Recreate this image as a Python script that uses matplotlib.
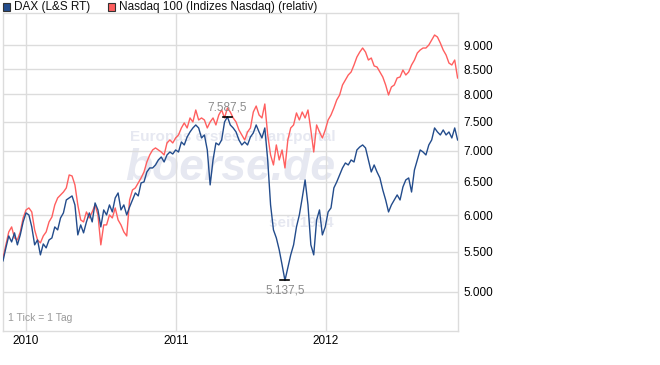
import matplotlib
matplotlib.use("Agg")
import matplotlib.pyplot as plt
import matplotlib.ticker as mticker
import numpy as np
import pandas as pd
from matplotlib.patches import Rectangle

plt.rcParams['font.family'] = ['Liberation Sans', 'DejaVu Sans']

start_date = "2009-11-06"
step = "7D"

dax = [5383, 5552, 5712, 5631, 5754, 5592, 5726, 5906, 6034, 6005,
       5836, 5592, 5658, 5460, 5604, 5552, 5658, 5685, 5836, 5795,
       5962, 6034, 6223, 6253, 6283, 6150, 5726, 5864, 5754, 5906,
       6034, 5906, 6179, 6077, 5836, 6077, 6005, 6150, 6048, 6253,
       6328, 6077, 6150, 6005, 6120, 6223, 6328, 6283, 6481, 6496,
       6652, 6716, 6716, 6764, 6845, 6894, 6812, 6927, 6976, 6943,
       7010, 6976, 7145, 7094, 7230, 7317, 7387, 7440, 7387, 7213,
       7265, 7010, 6450, 6845, 7128, 7094, 7179, 7493, 7587.5, 7440,
       7387, 7317, 7179, 7094, 7145, 7094, 7230, 7300, 7440, 7317,
       7213, 7387, 6845, 6150, 5795, 5685, 5526, 5332, 5137.5, 5294,
       5460, 5592, 5836, 6005, 6253, 6527, 6150, 5592, 5460, 5934,
       6077, 5726, 5836, 6048, 6106, 6404, 6496, 6605, 6716, 6796,
       6764, 6845, 6812, 7010, 7060, 7094, 7044, 6845, 6652, 6764,
       6652, 6558, 6373, 6223, 6048, 6150, 6223, 6298, 6223, 6419,
       6527, 6558, 6342, 6684, 6845, 7010, 6976, 6927, 7094, 7179,
       7387, 7317, 7265, 7352, 7265, 7317, 7213, 7387, 7179]

nasdaq = [5421, 5592, 5767, 5836, 5685, 5658, 5767, 5962, 6077, 6106,
          6048, 5795, 5658, 5618, 5712, 5767, 5906, 5976, 6150, 6253,
          6298, 6342, 6404, 6605, 6589, 6450, 6150, 5934, 5906, 6048,
          5962, 6048, 6150, 6005, 5592, 5864, 5864, 6005, 5962, 6106,
          5934, 5864, 5767, 5712, 6223, 6373, 6404, 6481, 6558, 6652,
          6812, 6927, 7010, 7044, 7010, 6976, 6927, 7128, 7179, 7128,
          7213, 7265, 7387, 7476, 7387, 7565, 7493, 7710, 7529, 7565,
          7529, 7387, 7493, 7565, 7440, 7619, 7710, 7565, 7747, 7673,
          7565, 7493, 7352, 7265, 7179, 7317, 7387, 7673, 7783, 7619,
          7565, 7821, 7265, 6927, 6764, 7094, 6845, 7010, 6716, 7179,
          7387, 7440, 7656, 7529, 7673, 7565, 7710, 7352, 6976, 7440,
          7317, 7213, 7352, 7529, 7619, 7747, 7896, 7990, 8183, 8281,
          8380, 8440, 8582, 8746, 8851, 8936, 8851, 8684, 8726, 8562,
          8541, 8440, 8340, 8183, 7990, 8144, 8183, 8321, 8340, 8480,
          8380, 8440, 8582, 8684, 8830, 8894, 8936, 8936, 9000, 9108,
          9217, 9173, 9043, 8894, 8788, 8622, 8582, 8684, 8321]

y_ticks = [5000, 5500, 6000, 6500, 7000, 7500, 8000, 8500, 9000]
year_ticks = ["2010-01-01", "2011-01-01", "2012-01-01"]
year_labels = ["2010", "2011", "2012"]
legend_labels = ["DAX (L&S RT)", "Nasdaq 100 (Indizes Nasdaq) (relativ)"]

dates = pd.date_range(start_date, periods=len(dax), freq=step)

DAX_COL = "#234c8c"
NDX_COL = "#ff5f5f"
GRID = "#dcdcdc"

fig = plt.figure(figsize=(6.6, 3.65), dpi=100)
ax = fig.add_axes([3 / 660, 34 / 365, 455 / 660, 318 / 365])

ax.set_yscale("log")
ax.set_ylim(4555, 9713)
ax.set_xlim(pd.Timestamp("2009-11-06"), pd.Timestamp("2012-11-17"))

ax.plot(dates, nasdaq, color=NDX_COL, lw=1.0, zorder=3)
ax.plot(dates, dax, color=DAX_COL, lw=1.0, zorder=4)

ax.yaxis.set_major_locator(mticker.FixedLocator(y_ticks))
ax.yaxis.set_minor_locator(mticker.NullLocator())
ax.yaxis.set_major_formatter(mticker.FuncFormatter(lambda v, p: f"{int(v):,}".replace(",", ".")))
ax.set_xticks([pd.Timestamp(d) for d in year_ticks])
ax.set_xticklabels(year_labels)
ax.grid(True, color=GRID, lw=1.0, zorder=0)
ax.yaxis.tick_right()
ax.tick_params(axis="both", length=0, labelsize=8.5, colors="#000000")
ax.tick_params(axis="y", pad=4)
ax.tick_params(axis="x", pad=3)
for s in ax.spines.values():
    s.set_color(GRID)
    s.set_linewidth(1.0)

# watermark
wm = "#e6e8f1"
ax.text(0.505, 0.61, "Europas erstes Finanzportal", transform=ax.transAxes, ha="center", va="center",
        fontsize=11, fontweight="bold", color=wm, zorder=1)
ax.text(0.50, 0.51, "boerse.de", transform=ax.transAxes, ha="center", va="center",
        fontsize=32, fontweight="bold", fontstyle="italic", color=wm, zorder=1)
ax.text(0.655, 0.34, "seit 1994", transform=ax.transAxes, ha="center", va="center",
        fontsize=11, fontweight="bold", color=wm, zorder=1)

# max / min markers
imax = int(np.argmax(dax))
imin = int(np.argmin(dax))
half = pd.Timedelta(days=11)
fmt = lambda v: f"{v:,.1f}".replace(",", "X").replace(".", ",").replace("X", ".")
ax.plot([dates[imax] - half, dates[imax] + half], [dax[imax]] * 2, color="black", lw=1.2, zorder=5)
ax.annotate(fmt(dax[imax]), (dates[imax], dax[imax]), xytext=(0, 2), textcoords="offset points",
            ha="center", va="bottom", fontsize=8.5, color="#8c8c8c", zorder=6)
ax.plot([dates[imin] - half, dates[imin] + half], [dax[imin]] * 2, color="black", lw=1.2, zorder=5)
ax.annotate(fmt(dax[imin]), (dates[imin], dax[imin]), xytext=(0, -3), textcoords="offset points",
            ha="center", va="top", fontsize=8.5, color="#8c8c8c", zorder=6)

ax.text(0.012, 0.025, "1 Tick = 1 Tag", transform=ax.transAxes, ha="left", va="bottom",
        fontsize=7.5, color="#999999")

# legend
for xpx, col, lab in [(3, DAX_COL, legend_labels[0]), (108, NDX_COL, legend_labels[1])]:
    fig.patches.append(Rectangle((xpx / 660, 1 - 10.5 / 365), 7 / 660, 7 / 365,
                                 transform=fig.transFigure, facecolor=col,
                                 edgecolor="#333333", lw=0.8))
    fig.text((xpx + 11) / 660, 1 - 7 / 365, lab, ha="left", va="center", fontsize=8.5, color="#111111")

fig.savefig("out.png", dpi=100)
